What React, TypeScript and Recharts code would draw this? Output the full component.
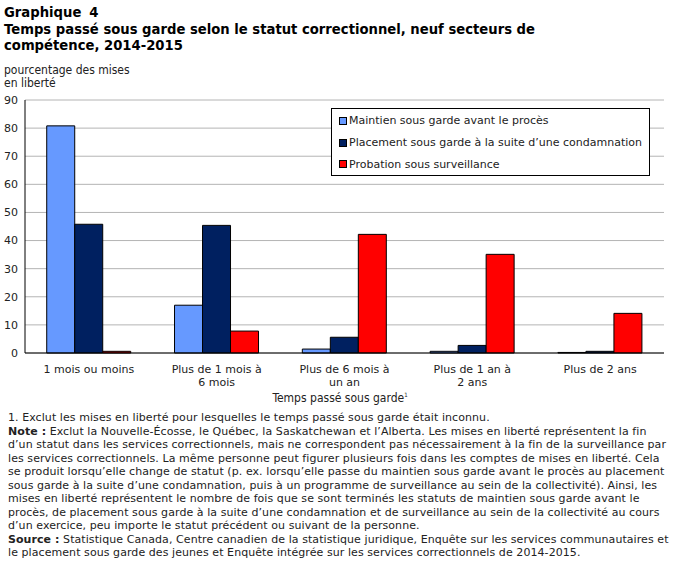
import React from "react";
import {
  BarChart,
  Bar,
  XAxis,
  YAxis,
  CartesianGrid,
  Legend,
} from "recharts";

const categories = [
  "1 mois ou moins",
  "Plus de 1 mois à|6 mois",
  "Plus de 6 mois à|un an",
  "Plus de 1 an à|2 ans",
  "Plus de 2 ans",
];
const maintien = [80.8, 17.0, 1.4, 0.6, 0.2];
const placement = [45.8, 45.4, 5.6, 2.7, 0.6];
const probation = [0.6, 7.8, 42.2, 35.1, 14.1];
const yTicks = [0, 10, 20, 30, 40, 50, 60, 70, 80, 90];

const seriesDefs = [
  { key: "maintien", name: "Maintien sous garde avant le procès", color: "#6699FF" },
  { key: "placement", name: "Placement sous garde à la suite d\u2019une condamnation", color: "#002060" },
  { key: "probation", name: "Probation sous surveillance", color: "#FF0000" },
];

const notes: { bold?: string; text: string }[] = [
  { text: "1. Exclut les mises en liberté pour lesquelles le temps passé sous garde était inconnu." },
  { bold: "Note :", text: " Exclut la Nouvelle-Écosse, le Québec, la Saskatchewan et l\u2019Alberta. Les mises en liberté représentent la fin" },
  { text: "d\u2019un statut dans les services correctionnels, mais ne correspondent pas nécessairement à la fin de la surveillance par" },
  { text: "les services correctionnels. La même personne peut figurer plusieurs fois dans les comptes de mises en liberté. Cela" },
  { text: "se produit lorsqu\u2019elle change de statut (p. ex. lorsqu\u2019elle passe du maintien sous garde avant le procès au placement" },
  { text: "sous garde à la suite d\u2019une condamnation, puis à un programme de surveillance au sein de la collectivité). Ainsi, les" },
  { text: "mises en liberté représentent le nombre de fois que se sont terminés les statuts de maintien sous garde avant le" },
  { text: "procès, de placement sous garde à la suite d\u2019une condamnation et de surveillance au sein de la collectivité au cours" },
  { text: "d\u2019un exercice, peu importe le statut précédent ou suivant de la personne." },
  { bold: "Source :", text: " Statistique Canada, Centre canadien de la statistique juridique, Enquête sur les services communautaires et" },
  { text: "le placement sous garde des jeunes et Enquête intégrée sur les services correctionnels de 2014-2015." },
];

const data = categories.map((cat, i) => ({
  cat,
  maintien: maintien[i],
  placement: placement[i],
  probation: probation[i],
}));

const FONT = "'DejaVu Sans', Verdana, sans-serif";
const NOTE_FONT = "'DejaVu Sans Condensed', Tahoma, sans-serif";

function CatTick(props: any) {
  const { x, y, payload } = props;
  const lines = String(payload.value).split("|");
  return (
    <text x={x} y={y} textAnchor="middle" fontFamily={FONT} fontSize={11} fill="#222">
      {lines.map((l, i) => (
        <tspan key={i} x={x} dy={i === 0 ? 12 : 13}>
          {l}
        </tspan>
      ))}
    </text>
  );
}

function LegendBox() {
  return (
    <div
      style={{
        border: "1px solid #000",
        background: "#fff",
        padding: "1px 6px 0px 7px",
        fontFamily: FONT,
        fontSize: 11,
        color: "#222",
        boxSizing: "border-box",
      }}
    >
      {seriesDefs.map((s) => (
        <div key={s.key} style={{ display: "flex", alignItems: "center", height: 21.7 }}>
          <span
            style={{
              display: "inline-block",
              width: 6,
              height: 6,
              background: s.color,
              border: "1px solid #000",
              marginRight: 2,
            }}
          />
          <span style={{ whiteSpace: "nowrap" }}>{s.name}</span>
        </div>
      ))}
    </div>
  );
}

export default function App() {
  return (
    <div style={{ position: "relative", width: 676, height: 561, background: "#fff", color: "#000" }}>
      <style>{`body{margin:0}`}</style>
      <div
        style={{
          position: "absolute",
          left: 4,
          top: 5,
          fontFamily: FONT,
          fontWeight: "bold",
          fontSize: 13.2,
          lineHeight: "16.5px",
        }}
      >
        <div>
          <span>Graphique</span>
          <span style={{ marginLeft: 8 }}>4</span>
        </div>
        <div>Temps passé sous garde selon le statut correctionnel, neuf secteurs de</div>
        <div>compétence, 2014-2015</div>
      </div>
      <div
        style={{
          position: "absolute",
          left: 4,
          top: 64,
          fontFamily: NOTE_FONT,
          fontSize: 12,
          lineHeight: "12.5px",
          color: "#222",
        }}
      >
        <div>pourcentage des mises</div>
        <div>en liberté</div>
      </div>

      <div style={{ position: "absolute", left: 0, top: 0 }}>
        <BarChart
          width={676}
          height={420}
          data={data}
          margin={{ top: 100, right: 12, bottom: 27, left: 0 }}
          barCategoryGap="17%"
          barGap={0}
        >
          <CartesianGrid vertical={false} stroke="#b4b4b4" />
          <XAxis
            dataKey="cat"
            interval={0}
            height={40}
            axisLine={{ stroke: "#000" }}
            tickLine={false}
            tick={<CatTick />}
          />
          <XAxis xAxisId="top" dataKey="cat" orientation="top" height={0} axisLine={{ stroke: "#000" }} tick={false} tickLine={false} />
          <YAxis
            domain={[0, 90]}
            ticks={yTicks}
            width={25}
            interval={0}
            axisLine={{ stroke: "#000" }}
            tickLine={false}
            tickSize={4}
            tickMargin={3}
            tick={{ fontFamily: FONT, fontSize: 11, fill: "#222" }}
          />
          <YAxis yAxisId="right" orientation="right" domain={[0, 90]} width={0} axisLine={{ stroke: "#000" }} tick={false} tickLine={false} />
          <Legend
            verticalAlign="middle"
            align="center"
            layout="horizontal"
            content={() => <LegendBox />}
            wrapperStyle={{ top: 108, left: 331, width: 319 }}
          />
          {seriesDefs.map((s) => (
            <Bar
              key={s.key}
              dataKey={s.key}
              name={s.name}
              fill={s.color}
              stroke="#000"
              strokeWidth={1}
              isAnimationActive={false}
            />
          ))}
        </BarChart>
      </div>

      <div
        style={{
          position: "absolute",
          left: 0,
          width: 680,
          top: 391,
          textAlign: "center",
          fontFamily: NOTE_FONT,
          fontSize: 12,
          color: "#222",
        }}
      >
        Temps passé sous garde<sup style={{ fontSize: 6 }}>1</sup>
      </div>

      <div
        style={{
          position: "absolute",
          left: 8,
          top: 411,
          fontFamily: FONT,
          fontSize: 11,
          letterSpacing: 0.07,
          lineHeight: "13.55px",
          color: "#222",
          whiteSpace: "nowrap",
        }}
      >
        {notes.map((n, i) => (
          <div key={i}>
            {n.bold && <b>{n.bold}</b>}
            {n.text}
          </div>
        ))}
      </div>
    </div>
  );
}
